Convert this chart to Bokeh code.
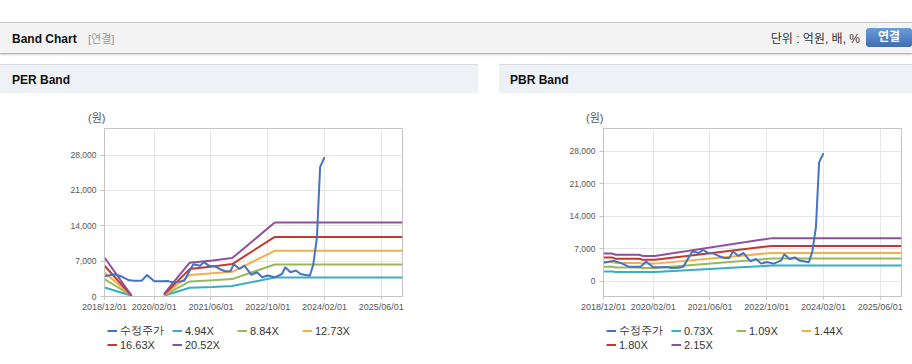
import pandas as pd
from bokeh.plotting import figure
from bokeh.models import (Range1d, FixedTicker, DatetimeTickFormatter, NumeralTickFormatter,
                          Legend, LegendItem, Div, Spacer)
from bokeh.layouts import column, row
from bokeh.embed import file_html
from bokeh.resources import INLINE

NaN = float("nan")

# ---------------- data ----------------
x_tick_dates = ["2018-12-01", "2020-02-01", "2021-06-01", "2022-10-01", "2024-02-01", "2025-06-01"]
y_ticks = [0, 7000, 14000, 21000, 28000]

price_dates = ["2018-12-01", "2019-03-01", "2019-05-01", "2019-07-01", "2019-08-15", "2019-10-15",
               "2019-12-01", "2020-02-01", "2020-04-01", "2020-06-01", "2020-07-01", "2020-09-01",
               "2020-10-15", "2020-12-01", "2021-01-01", "2021-03-01", "2021-04-01", "2021-05-15",
               "2021-07-01", "2021-08-15", "2021-10-01", "2021-11-15", "2021-12-15", "2022-02-01",
               "2022-03-15", "2022-05-15", "2022-07-01", "2022-08-15", "2022-10-01", "2022-12-01",
               "2023-02-01", "2023-03-01", "2023-04-15", "2023-06-01", "2023-07-10", "2023-09-28",
               "2023-10-28", "2023-11-28", "2023-12-12", "2023-12-25", "2024-02-01"]
price_values = [4000, 4400, 3900, 3200, 3100, 3100,
                4250, 3000, 3000, 3050, 2850, 2900,
                3100, 5100, 6400, 6100, 6800, 6100,
                6000, 5450, 5000, 5000, 6400, 5450,
                6100, 4300, 4800, 3800, 4150, 3800,
                4450, 5800, 4800, 5150, 4450, 4100,
                6400, 11700, 19000, 25600, 27600]

per_labels = ["4.94X", "8.84X", "12.73X", "16.63X", "20.52X"]
per_band_dates = ["2018-12-01", "2019-07-22", "2020-01-01", "2020-04-25", "2020-12-01",
                  "2021-06-15", "2021-12-01", "2022-12-01", "2025-12-01"]
per_494 = [1780, 150, NaN, 150, 1720, 1880, 2060, 3760, 3760]
per_884 = [3440, 150, NaN, 200, 2970, 3200, 3440, 6340, 6340]
per_1273 = [4750, 150, NaN, 300, 4240, 4600, 4890, 9050, 9050]
per_1663 = [6080, 150, NaN, 400, 5420, 5950, 6410, 11800, 11800]
per_2052 = [7720, 150, NaN, 500, 6700, 7130, 7600, 14650, 14650]

pbr_labels = ["0.73X", "1.09X", "1.44X", "1.80X", "2.15X"]
pbr_band_dates = ["2018-12-01", "2019-02-15", "2019-03-15", "2019-10-01", "2019-11-01",
                  "2020-02-15", "2022-11-15", "2025-12-01"]
pbr_073 = [2080, 2080, 2020, 2020, 1980, 1980, 3380, 3380]
pbr_109 = [3150, 3150, 2980, 2980, 2860, 2860, 4890, 4890]
pbr_144 = [4170, 4170, 3960, 3960, 3800, 3800, 6110, 6110]
pbr_180 = [5100, 5100, 4850, 4850, 4620, 4620, 7620, 7620]
pbr_215 = [5960, 5960, 5700, 5700, 5460, 5460, 9290, 9290]

price_label = "수정주가"
price_color = "#4472c4"
band_colors = ["#36afc5", "#99b858", "#f2b04b", "#c23a2e", "#8e4f9e"]

x_start, x_end = "2018-12-01", "2025-12-01"
per_y = (0, 33250)
pbr_y = (-3280, 32900)

FONT = "Liberation Sans"
FF = "font-family:'Liberation Sans','Noto Sans CJK KR',sans-serif;"


def make_chart(width, border_left, border_right, yr, band_dates, bands):
    p = figure(width=width, height=190, x_axis_type="datetime",
               x_range=Range1d(pd.Timestamp(x_start), pd.Timestamp(x_end)),
               y_range=Range1d(yr[0], yr[1]),
               output_backend="svg", toolbar_location=None,
               min_border_left=border_left, min_border_right=border_right,
               min_border_top=4, min_border_bottom=18, margin=0)
    p.background_fill_color = "white"
    p.border_fill_color = "white"
    p.outline_line_color = "#c4c4c4"
    p.outline_line_width = 1

    ticks_ms = [pd.Timestamp(d).value / 1e6 for d in x_tick_dates]
    p.xaxis.ticker = FixedTicker(ticks=ticks_ms)
    fmt = "%Y/%m/%d"
    p.xaxis.formatter = DatetimeTickFormatter(years=fmt, months=fmt, days=fmt, hours=fmt,
                                              hourmin=fmt, minutes=fmt, minsec=fmt,
                                              seconds=fmt, milliseconds=fmt, microseconds=fmt)
    p.yaxis.ticker = FixedTicker(ticks=y_ticks)
    p.yaxis.formatter = NumeralTickFormatter(format="0,0")

    for ax in (p.xaxis, p.yaxis):
        ax.axis_line_color = "#c4c4c4"
        ax.major_tick_line_color = "#c4c4c4"
        ax.minor_tick_line_color = None
        ax.major_tick_in = 0
        ax.major_label_text_font = FONT
        ax.major_label_text_color = "#555555"
    p.xaxis.major_tick_out = 3
    p.xaxis.major_label_standoff = 2
    p.xaxis.major_label_text_font_size = "9px"
    p.yaxis.major_tick_out = 4
    p.yaxis.major_label_standoff = 4
    p.yaxis.major_label_text_font_size = "8.5px"
    p.xgrid.grid_line_color = "#e6e6e6"
    p.ygrid.grid_line_color = "#e6e6e6"

    for vals, col in zip(bands, band_colors):
        p.line(pd.to_datetime(band_dates), vals, line_color=col, line_width=2)
    p.line(pd.to_datetime(price_dates), price_values, line_color=price_color, line_width=2)
    return p


def make_legend_fig(width, labels):
    lf = figure(width=width, height=46, x_range=Range1d(0, 1), y_range=Range1d(0, 1),
                output_backend="svg", toolbar_location=None,
                x_axis_location=None, y_axis_location=None,
                min_border_left=0, min_border_right=0, min_border_top=0, min_border_bottom=0,
                margin=0)
    lf.outline_line_color = None
    lf.xgrid.visible = False
    lf.ygrid.visible = False
    lf.background_fill_color = "white"
    lf.border_fill_color = "white"
    # legend-only renderers (no visible data)
    rp = lf.line([NaN, NaN], [NaN, NaN], line_color=price_color, line_width=2)
    items = [LegendItem(label=price_label, renderers=[rp], index=0)]
    for lab, col in zip(labels, band_colors):
        r = lf.line([NaN, NaN], [NaN, NaN], line_color=col, line_width=2)
        items.append(LegendItem(label=lab, renderers=[r], index=0))
    legend = Legend(items=items, location=(3, 9), orientation="horizontal", ncols=4,
                    glyph_width=10, glyph_height=13, label_height=13, label_width=52,
                    label_standoff=3, spacing=0, padding=0, margin=0,
                    border_line_color=None, background_fill_alpha=0,
                    label_text_font=FONT, label_text_font_size="11px",
                    label_text_color="#333333")
    lf.add_layout(legend)
    return lf


per_fig = make_chart(478, 104, 76, per_y, per_band_dates,
                     [per_494, per_884, per_1273, per_1663, per_2052])
pbr_fig = make_chart(413, 104, 11, pbr_y, pbr_band_dates,
                     [pbr_073, pbr_109, pbr_144, pbr_180, pbr_215])
per_leg = make_legend_fig(478, per_labels)
pbr_leg = make_legend_fig(413, pbr_labels)

header = Div(width=912, height=32, margin=0, text=(
    '<div style="box-sizing:border-box;width:912px;height:32px;background:#f3f3f3;'
    'border-top:1px solid #c8c8c8;border-bottom:1px solid #b5b5b5;'
    'box-shadow:0 1px 2px rgba(0,0,0,0.18);position:relative;' + FF + '">'
    '<span style="position:absolute;left:12px;top:8px;font-size:12px;font-weight:bold;color:#111;">Band Chart</span>'
    '<span style="position:absolute;left:88px;top:9px;font-size:11px;color:#999;">[연결]</span>'
    '<span style="position:absolute;right:52px;top:8px;font-size:12px;color:#333;">단위 : 억원, 배, %</span>'
    '<span style="position:absolute;right:0px;top:5px;width:46px;height:19px;border-radius:3px;'
    'background:linear-gradient(#6b9bd8,#3e6eb0);color:#fff;font-size:12px;font-weight:bold;'
    'text-align:center;line-height:19px;">연결</span>'
    '</div>'))


def title_div(w, txt, left, unit_left):
    return Div(width=w, height=60, margin=0, text=(
        '<div style="position:relative;width:%dpx;height:60px;background:#ffffff;%s">'
        '<div style="box-sizing:border-box;position:absolute;left:0;top:0;width:%dpx;height:29px;'
        'background:#eef2f7;border-top:1px solid #d8dce2;"></div>'
        '<span style="position:absolute;left:%dpx;top:8px;font-size:12px;font-weight:bold;color:#111;">%s</span>'
        '<span style="position:absolute;left:%dpx;top:47px;font-size:11px;color:#555;">(원)</span>'
        '</div>' % (w, FF, w, left, txt, unit_left)))


left_col = column(title_div(478, "PER Band", 12, 88), per_fig, per_leg, margin=0)
right_col = column(title_div(413, "PBR Band", 11, 87), pbr_fig, pbr_leg, margin=0)

layout = column(Spacer(height=22, margin=0), header, Spacer(height=10, margin=0),
                row(left_col, Spacer(width=21, margin=0), right_col, margin=0), margin=0)

open("out.html", "w").write(file_html(layout, INLINE))
